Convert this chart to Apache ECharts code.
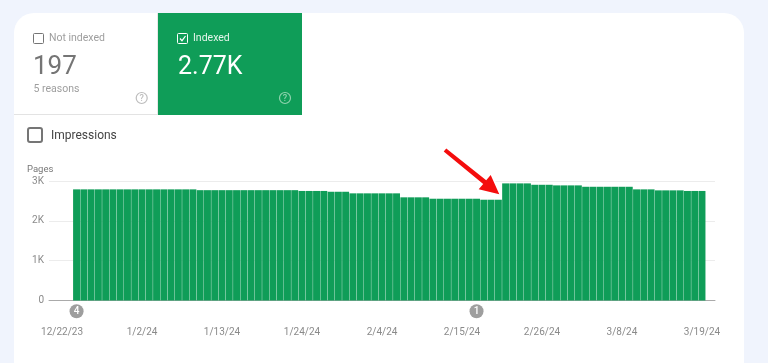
<!DOCTYPE html>
<html><head><meta charset="utf-8">
<style>html,body{margin:0;padding:0;background:#f0f4fd}#c{width:768px;height:363px}</style>
<script src="https://cdn.jsdelivr.net/npm/echarts@6/dist/echarts.min.js"></script>
</head><body><div id="c"></div>
<script>
const tickLabels = ['12/22/23','1/2/24','1/13/24','1/24/24','2/4/24','2/15/24','2/26/24','3/8/24','3/19/24'];
const tickDays = [0,11,22,33,44,55,66,77,88];
const firstBarDay = 2;
const indexedPages = [
2790,2790,2790,2790,2790,2790,2790,2790,2790,2790,2790,2790,2790,2790,2790,2790,2790,
2770,2770,2770,2770,2770,2770,2770,2770,2770,2770,2770,2770,2770,2770,
2750,2750,2750,2750,
2730,2730,2730,
2690,2690,2690,2690,2690,2690,2690,
2590,2590,2590,2590,
2555,2555,2555,2555,2555,2555,2555,
2530,2530,2530,
2940,2940,2940,2940,
2905,2905,2905,
2890,2890,2890,2890,
2855,2855,2855,2855,2855,2855,2855,
2790,2790,2790,
2765,2765,2765,2765,
2750,2750,2750];
const issueMarkers = [{day:2,label:'4'},{day:57,label:'1'}];
const markerLevel = -270;
const yTicks = {0:'0',1000:'1K',2000:'2K',3000:'3K'};

const font='Roboto';
const green='#0f9d58';
function txt(x,y,t,size,fill,extra){return {type:'text',z:5,style:Object.assign({x,y,text:t,fontFamily:font,fontSize:size,fill,textVerticalAlign:'middle'},extra||{})};}
function box(x,y,s,stroke,lw,r){return {type:'rect',z:5,shape:{x,y,width:s,height:s,r:r},style:{fill:'none',stroke,lineWidth:lw}};}
function help(cx,cy,stroke){return [{type:'circle',z:5,shape:{cx,cy,r:5.5},style:{fill:'none',stroke,lineWidth:1.2}},
  txt(cx,cy+.5,'?',9,stroke,{textAlign:'center',fontWeight:500})];}
const arrow=[[446.3,148.4],[486.2,180.3],[490.7,175],[499.3,194.3],[478.7,189.3],[483.2,184.1],[443.7,151.6]];

const chart=echarts.init(document.getElementById('c'),null,{renderer:'canvas'});
const graphics=[
 {type:'rect',z:-10,shape:{x:14,y:13,width:730,height:370,r:20},style:{fill:'#ffffff'}},
 {type:'rect',z:1,shape:{x:14,y:114,width:144,height:1},style:{fill:'#e3e3e3'}},
 {type:'rect',z:1,shape:{x:157,y:13,width:1,height:101},style:{fill:'#e8e8e8'}},
 {type:'rect',z:2,shape:{x:158,y:13,width:144,height:102},style:{fill:green}},
 box(33.5,33.5,10,'#757575',1,1),
 txt(49,38,'Not indexed',10.5,'#9e9e9e'),
 txt(33,67.5,'197',26,'#757575'),
 txt(33.5,89,'5 reasons',10.5,'#9e9e9e'),
 ...help(141.7,98,'#bdbdbd'),
 box(177.5,33.5,10,'#ffffff',1,1),
 {type:'polyline',z:5,shape:{points:[[180,38.5],[182,40.7],[185.5,36]]},style:{fill:'none',stroke:'#ffffff',lineWidth:1.2}},
 txt(193,38,'Indexed',10.5,'#e6f5ec'),
 txt(178,67.5,'2.77K',25,'#ffffff'),
 ...help(285,98,'#8fd3ae'),
 box(28,128,14,'#757575',2,2),
 txt(51,135.5,'Impressions',12,'#444444'),
 txt(27,169.5,'Pages',9.5,'#777777'),
 {type:'polygon',z:20,shape:{points:arrow},style:{fill:'#ffffff',stroke:'#ffffff',lineWidth:3.5,lineJoin:'round'}},
 {type:'polygon',z:21,shape:{points:arrow},style:{fill:'#f40d0d'}}
];
chart.setOption({
 animation:false,
 backgroundColor:'#f0f4fd',
 graphic:graphics,
 grid:{left:49,right:53,top:181,bottom:62.5},
 xAxis:{type:'value',min:-1.79,max:89.79,
  axisLine:{show:true,onZero:false,lineStyle:{color:'#aaaaaa',width:1}},
  axisTick:{show:false},splitLine:{show:false},
  axisLabel:{customValues:tickDays,margin:27,fontFamily:font,fontSize:10,color:'#8a8a8a',hideOverlap:false,
   formatter:v=>tickLabels[tickDays.indexOf(Math.round(v))]||''}},
 yAxis:{type:'value',min:0,max:3000,interval:1000,
  axisLine:{show:false},axisTick:{show:false},
  splitLine:{lineStyle:{color:'#ececec',width:1}},
  axisLabel:{margin:5,fontFamily:font,fontSize:10,color:'#8a8a8a',padding:[3,0,0,0],formatter:v=>yTicks[v]}},
 series:[
  {type:'bar',barWidth:6.95,itemStyle:{color:green},
   data:indexedPages.map((v,i)=>[firstBarDay+i,v])},
  {type:'scatter',clip:false,symbol:'circle',symbolSize:14,z:10,silent:true,
   itemStyle:{color:'#9e9e9e',opacity:1},
   label:{show:true,position:'inside',color:'#ffffff',fontFamily:font,fontSize:10,fontWeight:500,formatter:p=>p.value[2]},
   data:issueMarkers.map(m=>[m.day,markerLevel,m.label])}]
});
</script></body></html>
